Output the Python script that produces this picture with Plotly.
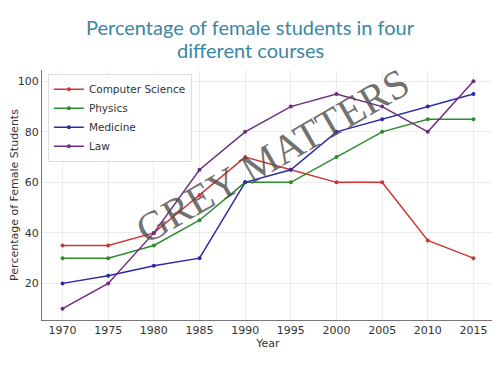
import plotly.graph_objects as go

years = [1970, 1975, 1980, 1985, 1990, 1995, 2000, 2005, 2010, 2015]
computer_science = [35, 35, 40, 55, 70, 65, 60, 60, 37, 30]
physics = [30, 30, 35, 45, 60, 60, 70, 80, 85, 85]
medicine = [20, 23, 27, 30, 60, 65, 80, 85, 90, 95]
law = [10, 20, 40, 65, 80, 90, 95, 90, 80, 100]

title_lines = ["Percentage of female students in four", "different courses"]

series = [
    ("Computer Science", computer_science, "#d03535"),
    ("Physics", physics, "#2e8b2e"),
    ("Medicine", medicine, "#2b2ba8"),
    ("Law", law, "#6e2d82"),
]

fig = go.Figure()
for name, vals, col in series:
    fig.add_trace(go.Scatter(
        x=years, y=vals, name=name, mode="lines+markers",
        line=dict(color=col, width=1.5),
        marker=dict(color=col, size=4),
    ))

# page body has an 8px margin, so the figure is drawn 8px smaller
W, H = 492, 367
fig.update_layout(
    width=W, height=H,
    margin=dict(l=34, r=6, t=62, b=55, autoexpand=False),
    paper_bgcolor="white", plot_bgcolor="white",
    font=dict(family="DejaVu Sans", size=11, color="#333333"),
    legend=dict(
        x=0.013, y=0.985, xanchor="left", yanchor="top",
        bordercolor="#dddddd", borderwidth=1, bgcolor="rgba(255,255,255,0.9)",
        font=dict(size=10.5, color="#333333"), tracegroupgap=0,
    ),
    xaxis=dict(
        range=[1967.75, 2017.25], tickvals=years, ticks="", automargin=False,
        showgrid=True, gridcolor="#ececec", showline=True, linecolor="#777777",
        title=dict(text="Year", standoff=0, font=dict(size=11)), zeroline=False,
        tickfont=dict(size=11),
    ),
    yaxis=dict(
        range=[5.5, 104.5], tickvals=[20, 40, 60, 80, 100], ticks="", automargin=False,
        showgrid=True, gridcolor="#ececec", showline=True, linecolor="#777777",
        title=dict(text="Percentage of Female Students", standoff=4, font=dict(size=11)),
        zeroline=False, tickfont=dict(size=11),
    ),
)

annotations = []
for i, line in enumerate(title_lines):
    annotations.append(dict(
        text=line, xref="paper", yref="paper",
        x=(242 - 34) / 452, y=(312 - (19 + 23 * i)) / 250,
        xanchor="center", yanchor="middle", showarrow=False,
        font=dict(family="Lato", size=20, color="#3b86a3"),
    ))
annotations.append(dict(
    text="GREY MATTERS", xref="paper", yref="paper", x=0.509, y=0.656,
    showarrow=False, textangle=-30,
    font=dict(family="Liberation Serif", size=41, color="rgba(75,75,75,0.8)"),
))
fig.update_layout(annotations=annotations)

fig.write_html("out.html")
